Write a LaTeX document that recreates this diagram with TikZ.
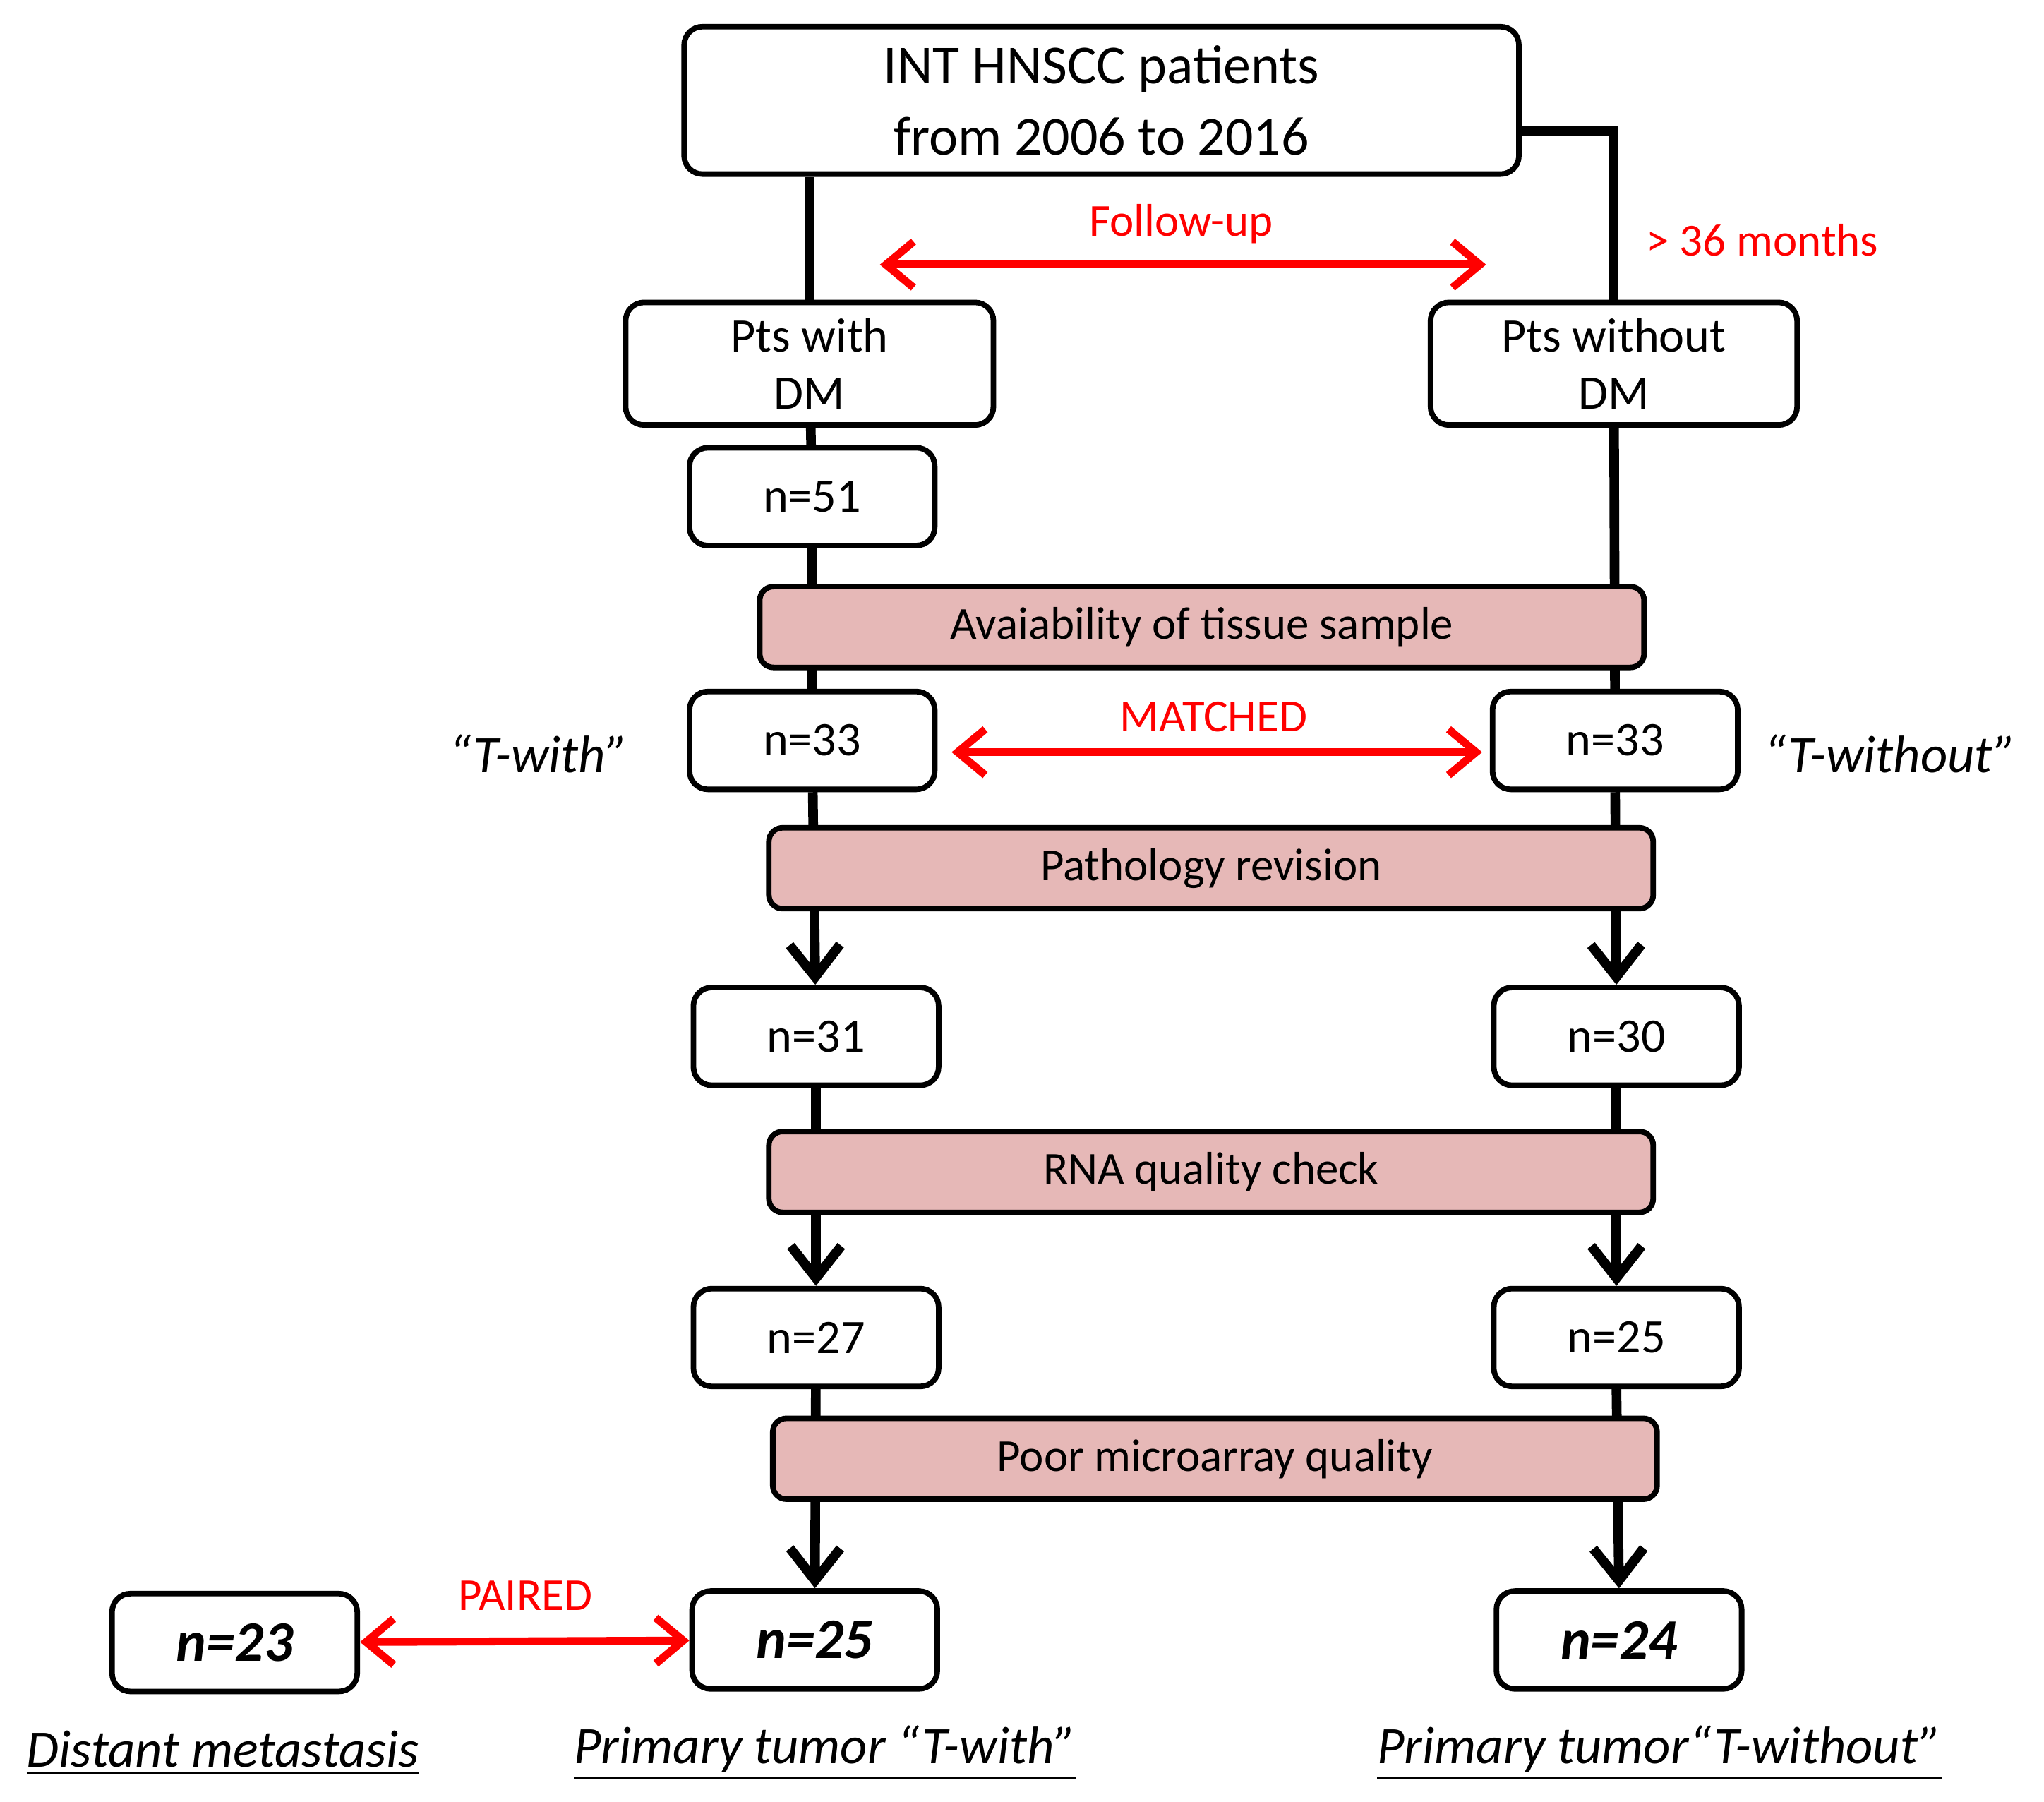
\documentclass[tikz,border=0pt]{standalone}
\usepackage{fontspec}
\setmainfont{Carlito}
\usetikzlibrary{arrows.meta,backgrounds}
\definecolor{band}{HTML}{E6B8B7}
\definecolor{rd}{HTML}{FF0000}
\begin{document}
\begin{tikzpicture}[x=0.01cm,y=-0.01cm,
 box/.style={draw,line width=1.2pt,rounded corners=4pt,fill=white,inner sep=0pt,align=center},
 nb/.style={box,minimum width=1.88cm,minimum height=0.75cm,font=\fontsize{10.5pt}{12pt}\selectfont},
 nbb/.style={nb,font=\fontsize{12.5pt}{14pt}\selectfont\bfseries\itshape},
 bnd/.style={draw,line width=1.2pt,rounded corners=3pt,fill=band,minimum width=6.78cm,minimum height=0.62cm,inner sep=0pt,font=\fontsize{10pt}{11pt}\selectfont},
 conn/.style={line width=2.1pt},
 arr/.style={conn,-{Straight Barb[length=7pt,width=11pt,line width=2.1pt]}},
 rarr/.style={draw=rd,line width=1.7pt,{Straight Barb[length=6pt,width=10pt]}-{Straight Barb[length=6pt,width=10pt]}},
 rlab/.style={text=rd,font=\fontsize{10pt}{11pt}\selectfont},
 ilab/.style={font=\fontsize{11.5pt}{12pt}\selectfont\itshape},
 ulab/.style={font=\fontsize{11.5pt}{12pt}\selectfont\itshape,inner sep=1pt}]
\useasboundingbox (0,0) rectangle (1568,1382);
\node[box,minimum width=6.4cm,minimum height=1.13cm,font=\fontsize{12pt}{15.5pt}\selectfont] (top) at (845,77) {INT HNSCC patients\\from 2006 to 2016};
\node[box,minimum width=2.82cm,minimum height=0.94cm,font=\fontsize{10.5pt}{12.5pt}\selectfont] (pw) at (621,279) {Pts with\\DM};
\node[box,minimum width=2.81cm,minimum height=0.94cm,font=\fontsize{10.5pt}{12.5pt}\selectfont] (pwo) at (1238,279) {Pts without\\DM};
\node[nb] (n51) at (623,381) {n=51};
\node[bnd] (b1) at (922,481) {Avaiability of tissue sample};
\node[nb] (n33l) at (623,568) {n=33};
\node[nb] (n33r) at (1239,568) {n=33};
\node[bnd] (b2) at (929,666) {Pathology revision};
\node[nb] (n31) at (626,795) {n=31};
\node[nb] (n30) at (1240,795) {n=30};
\node[bnd] (b3) at (929,899) {RNA quality check};
\node[nb] (n27) at (626,1026) {n=27};
\node[nb] (n25r) at (1240,1026) {n=25};
\node[bnd] (b4) at (932,1119) {Poor microarray quality};
\node[nbb] (n23) at (180,1260) {n=23};
\node[nbb] (n25) at (625,1258) {n=25};
\node[nbb] (n24) at (1242,1258) {n=24};
\node[rlab] (fu) at (906,172) {Follow-up};
\node[rlab] (m36) at (1352,184) {> 36 months};
\node[rlab] (mt) at (931,550) {MATCHED};
\node[rlab] (pr) at (403,1224) {PAIRED};
\node[ilab] (tw) at (413,578) {“T-with”};
\node[ilab] (two) at (1450,578) {“T-without”};
\node[ulab] (l1) at (171,1345) {\underline{Distant metastasis}};
\node[ulab] (l2) at (633,1345) {\underline{Primary tumor “T-with”}};
\node[ulab] (l3) at (1273,1345) {\underline{Primary tumor“T-without”}};
\coordinate (fa) at (675,203); \coordinate (fb) at (1140,203);
\coordinate (ma) at (730,577); \coordinate (mb) at (1137,577);
\begin{scope}[on background layer]
\draw[conn] (top.south -| pw) -- (pw);
\draw[conn] ([yshift=-0.23cm]top.east) -| (pwo);
\draw[conn] (pw) -- (n51);
\draw[conn] (n51) -- (n33l);
\draw[conn] (pwo) -- (n33r);
\draw[arr] (n33l) -- (n31);
\draw[arr] (n33r.south) -- (n30.north);
\draw[arr] (n31) -- (n27);
\draw[arr] (n30.south) -- (n25r.north);
\draw[arr] (n27) -- (n25);
\draw[arr] (n25r.south) -- (n24.north);
\end{scope}
\draw[rarr] (fa) -- (fb);
\draw[rarr] (ma) -- (mb);
\draw[rarr] (n23) -- (n25);
\end{tikzpicture}
\end{document}
